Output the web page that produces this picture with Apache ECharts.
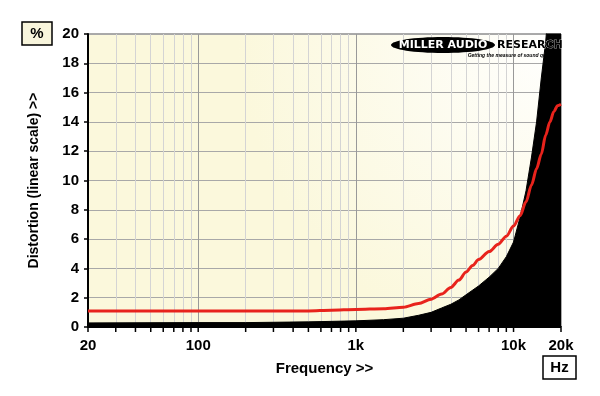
<!DOCTYPE html>
<html><head><meta charset="utf-8">
<script src="https://cdn.jsdelivr.net/npm/echarts@6/dist/echarts.min.js"></script>
<style>html,body{margin:0;padding:0;background:#fff}#c{width:600px;height:396px}</style>
</head><body><div id="c"></div>
<script>
const xTickLabels = [20, 100, 1000, 10000, 20000];
const xMinorTicks = [20,30,40,50,60,70,80,90,100,200,300,400,500,600,700,800,900,1000,2000,3000,4000,5000,6000,7000,8000,9000,10000,20000];
const decades = [100, 1000, 10000];
const redFreq = [20,50,100,200,500,700,1000,1500,2000,2500,3000,3500,4000,4500,5000,5500,6000,7000,8000,9000,10000,11000,12000,13000,14000,15000,16000,17000,18000,19000,20000];
const redVal  = [1.1,1.1,1.1,1.1,1.1,1.15,1.2,1.25,1.35,1.6,1.9,2.25,2.7,3.2,3.75,4.2,4.6,5.15,5.65,6.2,6.9,7.6,8.55,9.7,10.8,11.8,13.1,14.0,14.7,15.1,15.2];
const blkFreq = [20,100,200,500,1000,1500,2000,2500,3000,3500,4000,4500,5000,6000,7000,8000,9000,10000,11000,12000,13000,14000,15000,16000,17000,18000,20000];
const blkVal  = [0.28,0.3,0.3,0.35,0.42,0.5,0.6,0.8,1.0,1.3,1.55,1.85,2.2,2.8,3.4,4.0,4.8,5.8,7.5,9.3,11.6,14,17,19.5,23,27,35];

const F = "'Liberation Sans', Arial, sans-serif";
const chart = echarts.init(document.getElementById('c'));
function fmt(v){ return v>=1000 ? (v/1000)+'k' : String(v); }
chart.setOption({
  animation:false,
  grid:{left:88, right:39, top:34, bottom:69, show:true, borderColor:'#555', borderWidth:1,
    backgroundColor:{type:'radial', x:1, y:0, r:1.1, colorStops:[{offset:0,color:'#ffffff'},{offset:1,color:'#fbf8dc'}]}},
  xAxis:{type:'log', logBase:10, min:20, max:20000,
    axisLine:{show:true, lineStyle:{color:'#000', width:2}},
    axisTick:{show:false},
    splitLine:{show:false},
    axisLabel:{show:false},
    name:'Frequency >>', nameLocation:'middle', nameGap:34,
    nameTextStyle:{fontFamily:F, fontWeight:'bold', fontSize:15, color:'#000'}},
  yAxis:{type:'value', min:0, max:20, interval:2,
    axisLine:{show:true, lineStyle:{color:'#000', width:2}},
    axisTick:{show:true, length:4, lineStyle:{color:'#000', width:1.5}},
    axisLabel:{fontFamily:F, fontWeight:'bold', fontSize:15, color:'#000', margin:9},
    splitLine:{show:true, lineStyle:{color:'#a8a8a8', width:1}},
    name:'Distortion (linear scale) >>', nameLocation:'middle', nameGap:47, nameRotate:90,
    nameTextStyle:{fontFamily:F, fontWeight:'bold', fontSize:14, color:'#000'}},
  series:[
    {type:'line', data:[], silent:true, z:1,
      markLine:{silent:true, z:1, symbol:'none', label:{show:false}, animation:false,
        data: xMinorTicks.filter(v=>v>20 && v<20000).map(v=>({xAxis:v, lineStyle:{color: decades.includes(v)?'#999':'#d4d4d4', width:1, type:'solid'}}))}},
    {type:'line', data: blkFreq.map((f,i)=>[f, blkVal[i]]), showSymbol:false, smooth:false,
      lineStyle:{color:'#000', width:1}, areaStyle:{color:'#000', opacity:1}, clip:true, z:5},
    {type:'line', data: redFreq.map((f,i)=>[f, redVal[i]]), showSymbol:false, smooth:0.3, smoothMonotone:'x',
      lineStyle:{color:'#e8231c', width:3}, z:6, clip:true}
  ]
});
const base = chart.convertToPixel({xAxisIndex:0, yAxisIndex:0}, [20, 0]);
const g = [];
xMinorTicks.forEach(v=>{
  const p = chart.convertToPixel({xAxisIndex:0, yAxisIndex:0}, [v, 0]);
  g.push({type:'line', shape:{x1:p[0], y1:base[1]+1, x2:p[0], y2:base[1]+5}, style:{stroke:'#000', lineWidth:1.5}});
});
xTickLabels.forEach(v=>{
  const p = chart.convertToPixel({xAxisIndex:0, yAxisIndex:0}, [v, 0]);
  g.push({type:'text', x:p[0], y:base[1]+11, style:{text:fmt(v), font:'bold 15px '+F, fill:'#000', align:'center', verticalAlign:'top'}});
});
g.push({type:'rect', shape:{x:22, y:22, width:30, height:23}, style:{fill:'#f8f5dc', stroke:'#000', lineWidth:1.5}});
g.push({type:'text', x:37, y:34, style:{text:'%', font:'bold 15px '+F, fill:'#000', align:'center', verticalAlign:'middle'}});
g.push({type:'rect', shape:{x:543, y:356, width:33, height:23}, style:{fill:'#fff', stroke:'#000', lineWidth:1.5}});
g.push({type:'text', x:559.5, y:368, style:{text:'Hz', font:'bold 15px '+F, fill:'#000', align:'center', verticalAlign:'middle'}});
g.push({type:'ellipse', shape:{cx:443, cy:45, rx:52, ry:8}, style:{fill:'#000'}, z:20});
g.push({type:'text', x:443, y:45.5, style:{text:'MILLER AUDIO', font:'bold 11px "DejaVu Sans"', fill:'#fff', align:'center', verticalAlign:'middle'}, z:21});
g.push({type:'text', x:497, y:45.5, style:{text:'RESEARCH', font:'bold 11px "DejaVu Sans"', fill:'#000', stroke:'#fff', lineWidth:0.6, align:'left', verticalAlign:'middle'}, z:21});
g.push({type:'text', x:556, y:56, style:{text:'Getting the measure of sound quality', font:'italic bold 5px '+F, fill:'#000', align:'right', verticalAlign:'middle'}, z:21});
chart.setOption({graphic:g});
</script></body></html>
